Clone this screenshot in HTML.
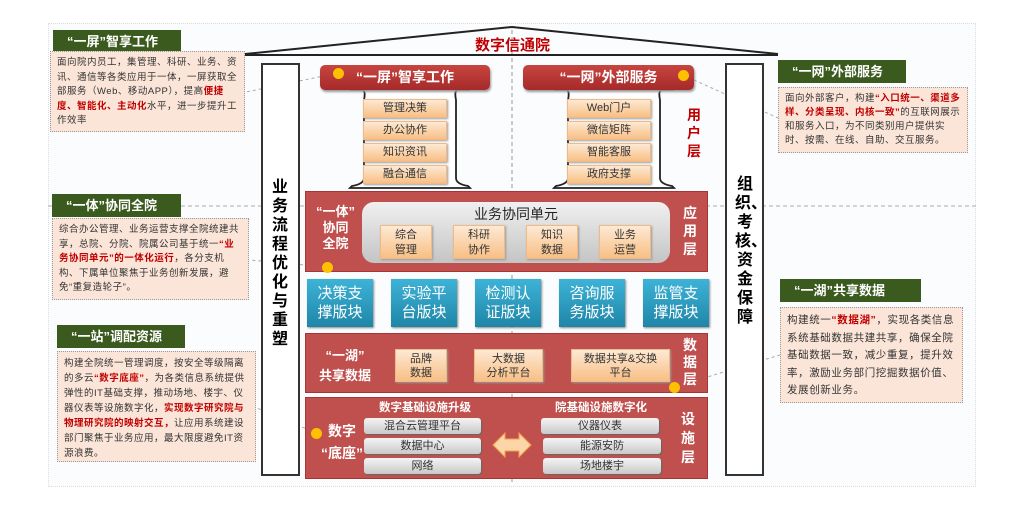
<!DOCTYPE html>
<html><head><meta charset="utf-8"><style>
*{margin:0;padding:0;box-sizing:border-box}
body{width:1024px;height:511px;background:#fff;position:relative;overflow:hidden;font-family:"Liberation Sans","Noto Sans CJK SC",sans-serif}
.a{position:absolute}
.gh{position:absolute;background:#3b5a1e;color:#fff;font-weight:bold;font-size:13px;line-height:23px;padding-left:14px;white-space:nowrap}
.tb{position:absolute;background:#fbe5d8;border:1.5px dotted #999;font-size:9.5px;line-height:14.5px;color:#333;padding:4px 6px;letter-spacing:0.5px}
.r{color:#c00000;font-weight:bold}
.rh{position:absolute;background:linear-gradient(#c8453f,#a52a2a);border-radius:5px;color:#fff;font-weight:bold;font-size:14px;text-align:center;line-height:25px;box-shadow:1px 2px 2px #999}
.ob{position:absolute;background:linear-gradient(#fde9d3,#f8bf85);color:#333;font-size:11px;text-align:center;box-shadow:1px 1px 2px #999;border:1px solid #eebb88}
.red{position:absolute;background:#c0504d;border:1px solid #a33}
.bl{position:absolute;background:linear-gradient(#3db3d8,#1f86a8);color:#fff;font-size:15px;line-height:19px;text-align:center;padding-top:5px;box-shadow:1px 1px 2px #888}
.gb{position:absolute;background:linear-gradient(#f4f4f4,#c9c9c9);border-radius:3px;color:#333;font-size:11px;text-align:center;line-height:16px;box-shadow:1px 1px 1px #666}
.vt{position:absolute;font-weight:bold;text-align:center;width:20px}
.dot{position:absolute;width:11px;height:11px;border-radius:50%;background:#ffc000}
</style></head><body>
<div class="a" style="left:48px;top:23px;width:928px;height:464px;background:#fbfcfe;border:1px dotted #ddd"></div>
<svg class="a" style="left:0;top:0" width="1024" height="511">
<line x1="48" y1="206" x2="976" y2="206" stroke="#aaa" stroke-dasharray="4,3"/>
<line x1="512" y1="30" x2="512" y2="482" stroke="#999" stroke-dasharray="4,3"/>
<polyline points="245,54 512,27 778,54" fill="none" stroke="#222" stroke-width="2"/>
<line x1="245" y1="55" x2="778" y2="55" stroke="#222" stroke-width="2"/>
<path d="M350,90 L362,90 Q366,90 364,100 L364,178 Q364,184 352,186 L350,188 L470,188 L468,186 Q456,184 456,178 L456,100 Q454,90 458,90 L470,90" fill="#fff" stroke="#222" stroke-width="1.8"/>
<path d="M554,90 L566,90 Q570,90 568,100 L568,178 Q568,184 556,186 L554,188 L674,188 L672,186 Q660,184 660,178 L660,100 Q658,90 662,90 L674,90" fill="#fff" stroke="#222" stroke-width="1.8"/>
<g stroke="#aaa" stroke-dasharray="3,3" fill="none">
<line x1="338" y1="73" x2="246" y2="92"/>
<line x1="683" y1="75" x2="778" y2="118"/>
<line x1="327" y1="267" x2="250" y2="260"/>
<line x1="674" y1="387" x2="780" y2="355"/>
<line x1="316" y1="433" x2="257" y2="408"/>
</g>
</svg>
<div class="a" style="left:475px;top:34px;color:#c00000;font-weight:bold;font-size:15px">数字信通院</div>
<div class="a" style="left:261px;top:63px;width:39px;height:413px;border:2px solid #333;background:#fff"></div>
<div class="vt" style="left:270px;top:178px;font-size:16px;line-height:19px">业务流程优化与重塑</div>
<div class="a" style="left:725px;top:63px;width:39px;height:413px;border:2px solid #333;background:#fff"></div>
<div class="vt" style="left:735px;top:175px;font-size:16px;line-height:19px">组织、考核、资金保障</div>

<div class="rh" style="left:320px;top:65px;width:170px">“一屏”智享工作</div>
<div class="rh" style="left:523px;top:65px;width:171px">“一网”外部服务</div>
<div class="dot" style="left:333px;top:68px"></div><div class="dot" style="left:678px;top:70px"></div>
<div class="ob" style="left:363px;top:99px;width:84px;height:19px;line-height:17px">管理决策</div>
<div class="ob" style="left:363px;top:121px;width:84px;height:19px;line-height:17px">办公协作</div>
<div class="ob" style="left:363px;top:143px;width:84px;height:19px;line-height:17px">知识资讯</div>
<div class="ob" style="left:363px;top:165px;width:84px;height:19px;line-height:17px">融合通信</div>
<div class="ob" style="left:567px;top:99px;width:84px;height:19px;line-height:17px">Web门户</div>
<div class="ob" style="left:567px;top:121px;width:84px;height:19px;line-height:17px">微信矩阵</div>
<div class="ob" style="left:567px;top:143px;width:84px;height:19px;line-height:17px">智能客服</div>
<div class="ob" style="left:567px;top:165px;width:84px;height:19px;line-height:17px">政府支撑</div>
<div class="vt" style="left:684px;top:106px;color:#c00000;font-size:14px;line-height:18px">用户层</div>

<div class="red" style="left:305px;top:191px;width:403px;height:81px"></div>
<div class="a" style="left:362px;top:202px;width:308px;height:61px;border-radius:12px;background:linear-gradient(#f0f0f0,#c4c4c4)"></div>
<div class="a" style="left:362px;top:204px;width:308px;text-align:center;font-size:14px;color:#222">业务协同单元</div>
<div class="ob" style="left:380px;top:225px;width:52px;height:34px;line-height:15px;padding-top:2px">综合<br>管理</div>
<div class="ob" style="left:453px;top:225px;width:52px;height:34px;line-height:15px;padding-top:2px">科研<br>协作</div>
<div class="ob" style="left:526px;top:225px;width:52px;height:34px;line-height:15px;padding-top:2px">知识<br>数据</div>
<div class="ob" style="left:599px;top:225px;width:52px;height:34px;line-height:15px;padding-top:2px">业务<br>运营</div>
<div class="a" style="left:313px;top:204px;width:45px;text-align:center;color:#fff;font-weight:bold;font-size:13px;line-height:16px">“一体”<br>协同<br>全院</div>
<div class="vt" style="left:680px;top:204px;color:#fff;font-size:14px;line-height:18px">应用层</div>
<div class="dot" style="left:322px;top:262px"></div>

<div class="bl" style="left:307px;top:279px;width:66px;height:48px">决策支<br>撑版块</div>
<div class="bl" style="left:391px;top:279px;width:66px;height:48px">实验平<br>台版块</div>
<div class="bl" style="left:475px;top:279px;width:66px;height:48px">检测认<br>证版块</div>
<div class="bl" style="left:559px;top:279px;width:66px;height:48px">咨询服<br>务版块</div>
<div class="bl" style="left:643px;top:279px;width:66px;height:48px">监管支<br>撑版块</div>

<div class="red" style="left:305px;top:333px;width:403px;height:60px"></div>
<div class="a" style="left:315px;top:346px;width:60px;text-align:center;color:#fff;font-weight:bold;font-size:13px;line-height:20px">“一湖”<br>共享数据</div>
<div class="ob" style="left:395px;top:349px;width:52px;height:33px;line-height:14px;padding-top:2px">品牌<br>数据</div>
<div class="ob" style="left:474px;top:349px;width:69px;height:33px;line-height:14px;padding-top:2px">大数据<br>分析平台</div>
<div class="ob" style="left:571px;top:349px;width:99px;height:33px;line-height:14px;padding-top:2px">数据共享&amp;交换<br>平台</div>
<div class="vt" style="left:680px;top:337px;color:#fff;font-size:14px;line-height:17px">数据层</div>
<div class="dot" style="left:669px;top:382px"></div>

<div class="red" style="left:305px;top:397px;width:403px;height:82px"></div>
<div class="a" style="left:365px;top:399px;width:120px;text-align:center;color:#fff;font-weight:bold;font-size:11.5px">数字基础设施升级</div>
<div class="a" style="left:542px;top:399px;width:118px;text-align:center;color:#fff;font-weight:bold;font-size:11.5px">院基础设施数字化</div>
<div class="gb" style="left:364px;top:418px;width:117px">混合云管理平台</div>
<div class="gb" style="left:364px;top:438px;width:117px">数据中心</div>
<div class="gb" style="left:364px;top:458px;width:117px">网络</div>
<div class="gb" style="left:541px;top:418px;width:118px">仪器仪表</div>
<div class="gb" style="left:543px;top:438px;width:118px">能源安防</div>
<div class="gb" style="left:543px;top:458px;width:118px">场地楼宇</div>
<svg class="a" style="left:492px;top:432px" width="40" height="26"><polygon points="1,13 13,1 13,7 27,7 27,1 39,13 27,25 27,19 13,19 13,25" fill="#fcd5a8" stroke="#f0a050"/></svg>
<div class="a" style="left:312px;top:420px;width:60px;text-align:center;color:#fff;font-weight:bold;font-size:14px;line-height:22px">数字<br>“底座”</div>
<div class="dot" style="left:311px;top:428px"></div>
<div class="vt" style="left:678px;top:410px;color:#fff;font-size:14px;line-height:19px">设施层</div>

<div class="gh" style="left:53px;top:30px;width:128px">“一屏”智享工作</div>
<div class="tb" style="left:50px;top:51px;width:195px;height:81px">面向院内员工，集管理、科研、业务、资讯、通信等各类应用于一体，一屏获取全部服务（Web、移动APP），提高<span class="r">便捷度、智能化、主动化</span>水平，进一步提升工作效率</div>
<div class="gh" style="left:52px;top:194px;width:129px">“一体”协同全院</div>
<div class="tb" style="left:52px;top:218px;width:197px;height:82px">综合办公管理、业务运营支撑全院统建共享，总院、分院、院属公司基于统一<span class="r">“业务协同单元”的一体化运行</span>，各分支机构、下属单位聚焦于业务创新发展，避免“重复造轮子”。</div>
<div class="gh" style="left:57px;top:325px;width:128px">“一站”调配资源</div>
<div class="tb" style="left:57px;top:351px;width:199px;height:111px;line-height:15px">构建全院统一管理调度，按安全等级隔离的多云<span class="r">“数字底座”</span>，为各类信息系统提供弹性的IT基础支撑，推动场地、楼宇、仪器仪表等设施数字化，<span class="r">实现数字研究院与物理研究院的映射交互，</span>让应用系统建设部门聚焦于业务应用，最大限度避免IT资源浪费。</div>
<div class="gh" style="left:778px;top:60px;width:128px">“一网”外部服务</div>
<div class="tb" style="left:778px;top:87px;width:190px;height:66px;line-height:14px">面向外部客户，构建<span class="r">“入口统一、渠道多样、分类呈现、内核一致”</span>的互联网展示和服务入口，为不同类别用户提供实时、按需、在线、自助、交互服务。</div>
<div class="gh" style="left:780px;top:279px;width:141px">“一湖”共享数据</div>
<div class="tb" style="left:780px;top:307px;width:183px;height:96px;font-size:10.5px;line-height:17.5px;letter-spacing:0.6px">构建统一<span class="r">“数据湖”</span>，实现各类信息系统基础数据共建共享，确保全院基础数据一致，减少重复，提升效率，激励业务部门挖掘数据价值、发展创新业务。</div>
</body></html>
